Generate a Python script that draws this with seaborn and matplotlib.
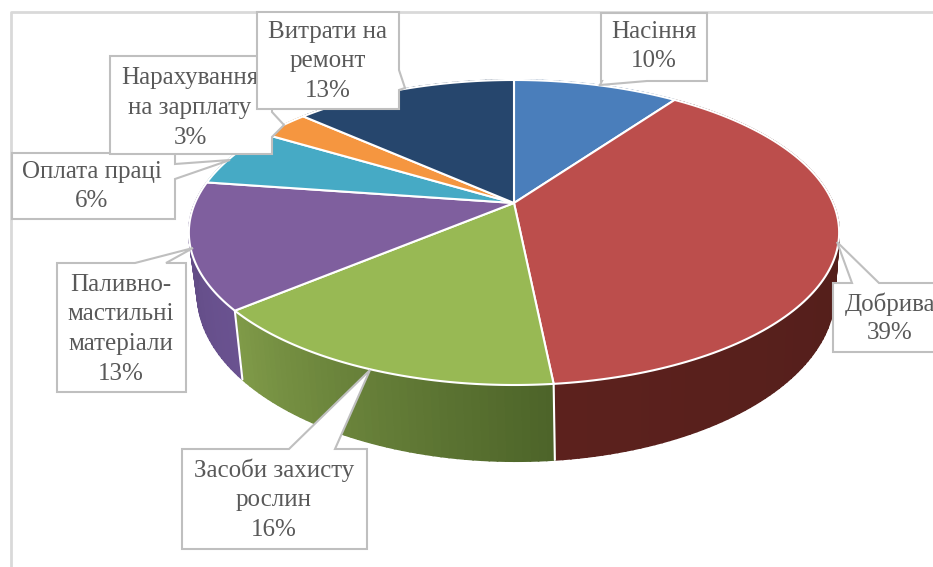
import numpy as np
import seaborn as sns
import matplotlib
matplotlib.use("Agg")
import matplotlib.pyplot as plt

categories = ["Насіння", "Добрива", "Засоби захисту рослин", "Паливно-мастильні матеріали",
              "Оплата праці", "Нарахування на зарплату", "Витрати на ремонт"]
values = [9.9, 38.5, 15.5, 13.4, 6.3, 3.0, 13.4]
top_colors = ["#4a7ebb", "#bc4e4c", "#98b954", "#7f5f9e", "#46aac5", "#f59640", "#26466d"]
# wall colours, clockwise start and end of each slice
wall_start = ["#3a6390", "#4b1c19", "#4d6429", "#6a5290", "#35808f", "#b06a28", "#1c3452"]
wall_end = ["#3a6390", "#5c211d", "#7f9a48", "#5f4a82", "#35808f", "#b06a28", "#1c3452"]

# callout text: x centre, first line y, line step, lines
label_lines = [["Насіння", "10%"], ["Добрива", "39%"], ["Засоби захисту", "рослин", "16%"],
               ["Паливно-", "мастильні", "матеріали", "13%"], ["Оплата праці", "6%"],
               ["Нарахування", "на зарплату", "3%"], ["Витрати на", "ремонт", "13%"]]
label_pos = [(654, 32, 29), (890, 304, 29), (274, 470, 30), (121, 285, 29.5), (92, 172, 29),
             (190, 78, 30), (328, 32, 29.5)]

# callout outlines, in picture pixels
boxes = [
    [(601, 13), (707, 13), (707, 81), (647, 81), (600, 85), (602, 81), (601, 81)],
    [(833, 283), (852, 283), (837, 242), (879, 283), (940, 283), (940, 352), (833, 352)],
    [(182, 449), (289, 449), (370, 370), (335, 449), (367, 449), (367, 549), (182, 549)],
    [(57, 263), (135, 263), (193, 248), (166, 263), (186, 263), (186, 392), (57, 392)],
    [(12, 153), (175, 153), (175, 164), (230, 160), (175, 179), (175, 219), (12, 219)],
    [(110, 56), (272, 56), (272, 112), (284, 125), (272, 137), (272, 154), (110, 154)],
    [(257, 12), (399, 12), (399, 70), (405, 88), (399, 90), (399, 109), (257, 109)],
]

# pie geometry: perspective of a flat disc, apex sits above the ellipse centre
apex_x, apex_y = 514, 203
persp_k, persp_a, persp_c = 0.1934, 146.8, 319


def rim(pct):
    t = np.radians(np.asarray(pct) * 3.6)
    x, y = np.sin(t), np.cos(t)
    d = 1 + persp_k * y
    return apex_x + persp_c * x / d, apex_y - persp_a * y / d


def lower(px, py):
    depth = 58 + 0.1 * (py - apex_y)
    return apex_x + (px - apex_x) * 0.98 + 2, py + depth


sns.set_theme(style="white")
plt.rcParams["font.family"] = ["Liberation Serif", "DejaVu Serif"]

fig = plt.figure(figsize=(9.33, 5.67), dpi=100)
ax = fig.add_axes([0, 0, 1, 1])
ax.set_xlim(0, 933)
ax.set_ylim(567, 0)
ax.axis("off")

# chart frame
ax.plot([11, 11, 933], [567, 12, 12], color="#d9d9d9", lw=2, zorder=1)

edges = np.concatenate([[0], np.cumsum(values)])
top_palette = sns.color_palette(top_colors)

# side wall first, the top covers its back half
for i in range(len(values)):
    steps = max(int(values[i] * 3), 2)
    grid = np.linspace(edges[i], edges[i + 1], steps + 1)
    shades = sns.blend_palette([wall_start[i], wall_end[i]], n_colors=steps)
    for j in range(steps):
        seg = np.linspace(grid[j], grid[j + 1], 6)
        px, py = rim(seg)
        qx, qy = lower(px, py)
        ax.fill(np.r_[px, qx[::-1]], np.r_[py, qy[::-1]], color=shades[j], lw=1.2, zorder=2)

for b in edges[:-1]:
    if 25 < b < 75:
        px, py = rim(b)
        qx, qy = lower(px, py)
        ax.plot([px, qx], [py, qy], color="white", lw=1.5, zorder=3)

for i in range(len(values)):
    seg = np.linspace(edges[i], edges[i + 1], 120)
    px, py = rim(seg)
    ax.fill(np.r_[apex_x, px], np.r_[apex_y, py], facecolor=top_palette[i],
            edgecolor="white", lw=1.5, joinstyle="round", zorder=4)

# callouts, drawn in the order they overlap
for i in [1, 2, 3, 0, 4, 5, 6]:
    z = 5 + i
    xs, ys = zip(*boxes[i])
    ax.fill(xs, ys, facecolor="white", edgecolor="#bfbfbf", lw=1.5, zorder=z)
    cx, cy, step = label_pos[i]
    for n, line in enumerate(label_lines[i]):
        ax.text(cx, cy + n * step, line, ha="center", va="center", fontsize=18,
                color="#595959", zorder=z)

fig.savefig("out.png", dpi=100)
